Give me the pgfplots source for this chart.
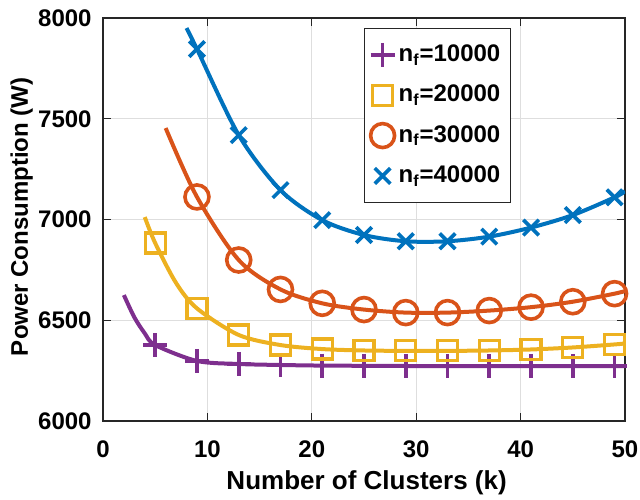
\documentclass[border=0pt]{standalone}
\usepackage{fontspec}
\setmainfont{Liberation Sans}
\usepackage{pgfplots}
\pgfplotsset{compat=1.18}
\definecolor{mblue}{rgb}{0,0.447,0.741}
\definecolor{morange}{rgb}{0.85,0.325,0.098}
\definecolor{myellow}{rgb}{0.929,0.694,0.125}
\definecolor{mpurple}{rgb}{0.494,0.184,0.556}
\begin{document}
\fontsize{12}{14}\selectfont\bfseries
\begin{tikzpicture}
\useasboundingbox (-51.5pt,-39pt) rectangle (268.5pt,210.5pt);
\begin{axis}[
  at={(0,0)}, anchor=south west,
  width=261pt, height=201.5pt, scale only axis,
  xmin=0, xmax=50, ymin=6000, ymax=8000,
  xtick={0,10,...,50}, ytick={6000,6500,...,8000},
  grid=major, major grid style={black!13, line width=0.5pt},
  tick align=inside, major tick length=4pt,
  axis line style={black!85, line width=0.6pt},
  tick style={black!85, line width=0.6pt},
  /pgf/number format/assume math mode=true,
  /pgf/number format/set thousands separator={},
  xticklabel style={font=\fontsize{12}{14}\selectfont\bfseries, anchor=base, yshift=-18pt, inner sep=0pt},
  yticklabel style={font=\fontsize{12}{14}\selectfont\bfseries, anchor=east, xshift=-5.5pt, inner sep=0pt},
  every axis x label/.style={at={([yshift=-34pt]axis description cs:0.505,0)}, anchor=base,
    font=\fontsize{13}{15}\selectfont\bfseries, inner sep=0pt},
  every axis y label/.style={at={([xshift=-37.5pt]axis description cs:0,0.507)}, rotate=90, anchor=base,
    font=\fontsize{12}{14}\selectfont\bfseries, inner sep=0pt},
  xlabel={Number of Clusters (k)},
  ylabel={Power Consumption (W)},
  legend style={at={(0.5,0.975)}, anchor=north west, draw=black!85, line width=0.6pt,
    font=\fontsize{12}{14}\selectfont\bfseries, row sep=6pt, inner xsep=3pt, inner ysep=6pt},
  legend cell align=left,
]
% smooth curves
\addplot[mpurple, line width=2pt, smooth, forget plot] coordinates {
 (2,6625) (3,6515) (4,6435) (5,6377) (9,6298) (13,6283) (17,6278) (21,6275) (25,6274) (29,6273) (33,6273) (37,6273) (41,6273) (45,6273) (49,6273) (50,6273)};
\addplot[myellow, line width=2pt, smooth, forget plot] coordinates {
 (4,7012) (5,6883) (7,6685) (9,6559) (13,6427) (17,6377) (21,6357) (25,6350) (29,6348) (33,6348) (37,6350) (41,6355) (45,6365) (49,6380) (50,6385)};
\addplot[morange, line width=2pt, smooth, forget plot] coordinates {
 (6,7454) (9,7112) (13,6799) (17,6653) (21,6584) (25,6553) (29,6538) (33,6538) (37,6548) (41,6565) (45,6592) (49,6632) (50,6645)};
\addplot[mblue, line width=2pt, smooth, forget plot] coordinates {
 (8,7950) (9,7846) (13,7419) (17,7146) (21,6997) (25,6923) (29,6892) (33,6892) (37,6915) (41,6960) (45,7022) (49,7110) (50,7140)};
% markers
\addplot[mpurple, only marks, mark=+, mark size=6pt, line width=1.8pt] coordinates {
 (5,6377) (9,6298) (13,6283) (17,6278) (21,6275) (25,6274) (29,6273) (33,6273) (37,6273) (41,6273) (45,6273) (49,6273)};
\addlegendentry{n\textsubscript{f}=10000}
\addplot[myellow, only marks, mark=square, mark size=5pt, line width=1.6pt] coordinates {
 (5,6883) (9,6559) (13,6427) (17,6377) (21,6357) (25,6350) (29,6348) (33,6348) (37,6350) (41,6355) (45,6365) (49,6380)};
\addlegendentry{n\textsubscript{f}=20000}
\addplot[morange, only marks, mark=o, mark size=6pt, line width=1.8pt] coordinates {
 (9,7112) (13,6799) (17,6653) (21,6584) (25,6553) (29,6538) (33,6538) (37,6548) (41,6565) (45,6592) (49,6632)};
\addlegendentry{n\textsubscript{f}=30000}
\addplot[mblue, only marks, mark=x, mark size=5.5pt, line width=1.8pt] coordinates {
 (9,7846) (13,7419) (17,7146) (21,6997) (25,6923) (29,6892) (33,6892) (37,6915) (41,6960) (45,7022) (49,7110)};
\addlegendentry{n\textsubscript{f}=40000\rule[-7pt]{0pt}{7pt}}
\end{axis}
\end{tikzpicture}
\end{document}
